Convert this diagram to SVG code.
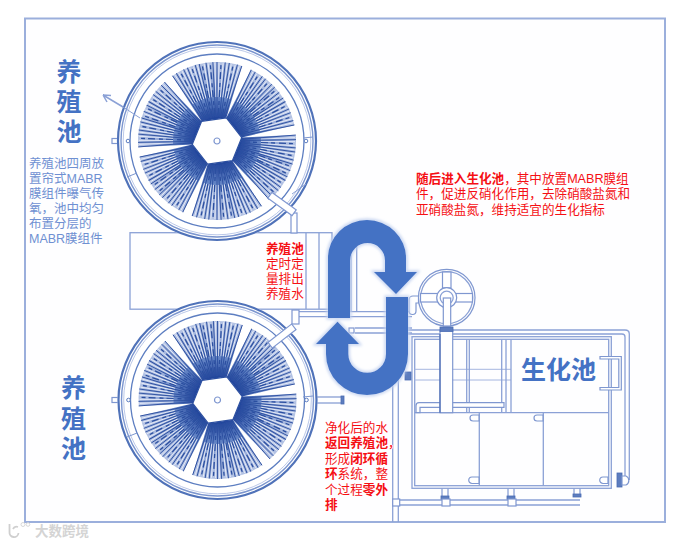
<svg xmlns="http://www.w3.org/2000/svg" width="685" height="545" viewBox="0 0 685 545">
<style>
text{font-family:"Liberation Sans","Noto Sans CJK SC","Noto Sans",sans-serif}
.title{font-size:25px;font-weight:700;fill:#4472c4;text-anchor:middle}
.desc{font-size:12.5px;fill:#6f90d2}
.red{font-size:12.6px;fill:#f50f14;paint-order:stroke;stroke:#fff;stroke-width:1.2px}
.b{font-weight:700}
.wm{font-size:13.5px;font-weight:700;fill:#d4d4d4}
.l{fill:none;stroke:#8ba1d6;stroke-width:1.3}
.t{fill:none;stroke:#a5b6e0;stroke-width:1}
.p{fill:#fff;stroke:#7f97d0;stroke-width:1.2}
.d{fill:#5d7dbf;stroke:#4a6cb3;stroke-width:.8}
.ld{stroke:#2c4fa0;stroke-width:.9}
.lw{stroke:#f0f3fb;stroke-width:.8}
.ls{stroke:#2c4fa0;stroke-width:1.3;stroke-dasharray:7 3 4 4}
.ring{fill:none}
</style>
<defs>
<filter id="soft" x="-5%" y="-5%" width="110%" height="110%"><feGaussianBlur stdDeviation="0.4"/></filter>
<filter id="glow" x="-15%" y="-15%" width="130%" height="130%"><feGaussianBlur stdDeviation="1.6"/></filter>
<radialGradient id="bg" gradientUnits="userSpaceOnUse" cx="0" cy="0" r="79">
<stop offset="0.3" stop-color="#24479d"/><stop offset="0.5" stop-color="#5a7cc0"/><stop offset="0.75" stop-color="#96abd9"/><stop offset="1" stop-color="#b4c3e4"/>
</radialGradient>
<line id="ld" class="ld" x1="0" y1="-24" x2="0" y2="-79"/>
<line id="lw" class="lw" x1="0" y1="-44" x2="0" y2="-78"/>
<line id="ls" class="ls" x1="0" y1="-26" x2="0" y2="-79"/>
<g id="blade">
<path d="M-12.5-21.65L-35.2-70.7A79 79 0 0 1 35.2-70.7L12.5-21.65Z" fill="url(#bg)"/>
<use href="#ld" transform="rotate(-26.3)"/><use href="#lw" transform="rotate(-24.5)"/><use href="#ld" transform="rotate(-23)"/><use href="#lw" transform="rotate(-21.5)"/>
<use href="#ls" transform="rotate(-20)"/><use href="#lw" transform="rotate(-18.5)"/><use href="#ld" transform="rotate(-17)"/><use href="#lw" transform="rotate(-15.5)"/>
<use href="#ld" transform="rotate(-14)"/><use href="#lw" transform="rotate(-12.5)"/><use href="#ls" transform="rotate(-11)"/><use href="#lw" transform="rotate(-9.5)"/>
<use href="#ld" transform="rotate(-8)"/><use href="#lw" transform="rotate(-6.5)"/><use href="#ld" transform="rotate(-5)"/><use href="#ls" transform="rotate(-3)"/>
<use href="#lw" transform="rotate(-1.5)"/><use href="#ld" transform="rotate(0)"/><use href="#lw" transform="rotate(1.5)"/><use href="#ls" transform="rotate(3)"/>
<use href="#ld" transform="rotate(5)"/><use href="#lw" transform="rotate(6.5)"/><use href="#ld" transform="rotate(8)"/><use href="#lw" transform="rotate(9.5)"/>
<use href="#ls" transform="rotate(11)"/><use href="#lw" transform="rotate(12.5)"/><use href="#ld" transform="rotate(14)"/><use href="#lw" transform="rotate(15.5)"/>
<use href="#ld" transform="rotate(17)"/><use href="#lw" transform="rotate(18.5)"/><use href="#ls" transform="rotate(20)"/><use href="#lw" transform="rotate(21.5)"/>
<use href="#ld" transform="rotate(23)"/><use href="#lw" transform="rotate(24.5)"/><use href="#ld" transform="rotate(26.3)"/>
</g>
<g id="fan">
<circle r="100" fill="#fff"/>
<circle class="ring" r="99" stroke="#5072b9" stroke-width="2.2"/>
<circle class="ring" r="96" stroke="#7c96cf" stroke-width="1.4"/>
<circle class="ring" r="93.8" stroke="#a9bae2" stroke-width=".8"/>
<circle class="ring" r="87" stroke="#5d7ec1" stroke-width="1.3"/>
<g transform="rotate(-8)">
<use href="#blade"/><use href="#blade" transform="rotate(60)"/><use href="#blade" transform="rotate(120)"/><use href="#blade" transform="rotate(180)"/><use href="#blade" transform="rotate(240)"/><use href="#blade" transform="rotate(300)"/>
<polygon points="12.5,-21.65 25,0 12.5,21.65 -12.5,21.65 -25,0 -12.5,-21.65" fill="#fff" stroke="#2c4fa0" stroke-width="1.2"/>
</g>
<circle r="3" fill="#fff" stroke="#7f97d0" stroke-width="1.2"/>
<circle cx="-89" cy="0" r="1.8" fill="#fff" stroke="#5d7ec1"/>
<circle cx="89" cy="0" r="1.8" fill="#fff" stroke="#5d7ec1"/>
</g>
</defs>
<rect width="685" height="545" fill="#fff"/>
<rect id="frame" x="25" y="18.5" width="640" height="503.5" fill="#fefeff" stroke="#9bafdc" stroke-width="2"/>

<g id="connectors" filter="url(#soft)">
<rect class="l" x="130" y="232.7" width="202" height="76.5"/>
<path class="l" d="M306 232.7V309M319 232.7V309"/>
<path class="l" d="M351 240V312M356.7 240V312"/>
<path class="l" d="M299 311.7H412M299 316.7H412M355 328H412M355 333H412"/>
<rect class="p" x="349" y="328" width="5" height="5"/>
<path class="l" d="M392.7 333V522M398.3 333V522"/>
<rect class="p" x="291" y="213" width="6" height="20"/>
<rect class="p" x="292" y="310" width="7" height="14"/>
<path d="M128 110L103 95M103 95L111 95.500M103 95L107 102" fill="none" stroke="#8ba1d6" stroke-width="1.5"/>
<rect class="p" x="112" y="138.500" width="9" height="5"/>
<rect class="p" x="112" y="397.500" width="9" height="5"/>
<rect class="p" x="316" y="397" width="26" height="6"/>
<rect class="d" x="341" y="396" width="3" height="8"/>
<path class="l" d="M397 500H580M397 505H580"/>
<rect class="p" x="392.700" y="499" width="7" height="7"/>
<path class="l" d="M442 488V500M448 488V500M508 488V500M514 488V500M574 488V497M580 488V497"/>
<rect class="d" x="441" y="496" width="8" height="3"/><rect class="p" x="442" y="499" width="8" height="7"/>
<rect class="d" x="507" y="496" width="8" height="3"/><rect class="p" x="508" y="499" width="8" height="7"/>
<rect class="d" x="573" y="494" width="8" height="3"/>
<path class="l" d="M408 330H625Q629.300 330 629.300 334V480M408 334H622Q625 334 625 337V476"/>
<rect class="d" x="617" y="473" width="5" height="14"/>
<path class="p" d="M622 476H626A5 5 0 0 1 626 485H622Z"/>
</g>

<g id="fan-top" filter="url(#soft)">
<use href="#fan" x="217" y="141"/>
<path d="M120 105L140 118M292 194L306 184" fill="none" stroke="#8ba1d6" stroke-width="1"/>
<path d="M127 177L137 173M303 138L313 137" fill="none" stroke="#7c96cf" stroke-width="1"/>
<rect class="p" x="267" y="200.500" width="30" height="7" transform="rotate(36 282 204)"/>
</g>
<g id="fan-bottom" filter="url(#soft)">
<use href="#fan" x="217.500" y="400"/>
<path d="M127 437L137 433M303 397L313 396" fill="none" stroke="#7c96cf" stroke-width="1"/>
<rect class="p" x="267" y="332.500" width="30" height="7" transform="rotate(-38 282 336)"/>
</g>

<g id="tank" filter="url(#soft)">
<rect class="l" x="412" y="336.700" width="199.300" height="151.600"/>
<rect class="l" x="414.700" y="339.300" width="194" height="146.400"/>
<path class="t" d="M414.700 369.300H511M414.700 380H511"/>
<path class="l" d="M414.700 412.700H608.700M479.300 412.700V485.700M543.300 412.700V485.700M511 339.300V412.700M506 339.300V412.700M501.700 339.300V412.700M466.700 339.300V412.700M469.300 339.300V412.700"/>
<path class="p" d="M504 402.700H419A3 3 0 0 0 416 405.700V412.700H420V407.300H504Z"/>
<rect class="p" x="440" y="330" width="12.700" height="82.700"/>
<path d="M440 334V412.700" fill="none" stroke="#4a6cb3" stroke-width="1.2"/>
<path class="p" d="M479 415H473A3 3 0 0 0 473 421H479ZM479 477H472A3.200 3.200 0 0 0 472 483.500H479ZM608 477H603A3.200 3.200 0 0 0 603 483.500H608ZM543 415H537A3 3 0 0 0 537 421H543Z"/>
<path class="p" d="M600 356.500H621.300V390H600V387.500H618.800V359H600Z"/>
<rect class="d" x="405" y="372" width="6" height="8"/>
</g>

<g id="wheel" filter="url(#soft)">
<circle class="p" cx="446.700" cy="297.700" r="28.300" stroke-width="1.500"/>
<circle class="l" cx="446.700" cy="297.700" r="26"/>
<rect class="p" x="442.500" y="272" width="8.500" height="16"/>
<rect class="p" x="420.500" y="293.500" width="52" height="8.500"/>
<circle class="p" cx="446.700" cy="297.700" r="10"/>
<circle class="l" cx="446.700" cy="297.700" r="6.500"/>
<rect class="p" x="443.300" y="298" width="7.400" height="28"/>
<rect class="d" x="440" y="327" width="13" height="4.500"/>
<path class="p" d="M418.500 296H413A4 4 0 0 0 409 300V311A3.500 3.500 0 0 0 416 311V303H418.500Z"/>
</g>

<g id="flow-arrows">
<path d="M328 318V258A39 38 0 0 1 406 258V272H417L396 294L374 272H385V260.500A17.500 17.500 0 0 0 350 260.500V318Z" fill="none" stroke="#c3d1ef" stroke-width="3" filter="url(#glow)"/>
<path d="M386 297H408V354A41 41 0 0 1 326 354V344H316L337.500 321.700L359 344H348.300V354A18.700 18.700 0 0 0 386 354Z" fill="none" stroke="#c3d1ef" stroke-width="3" filter="url(#glow)"/>
<path id="arrow-down" d="M328 318V258A39 38 0 0 1 406 258V272H417L396 294L374 272H385V260.500A17.500 17.500 0 0 0 350 260.500V318Z" fill="#4472c4"/>
<path id="arrow-up" d="M386 297H408V354A41 41 0 0 1 326 354V344H316L337.500 321.700L359 344H348.300V354A18.700 18.700 0 0 0 386 354Z" fill="#4472c4"/>
</g>

<g id="label-pond-top">
<text class="title" x="69" y="80.500">养</text>
<text class="title" x="69" y="110.500">殖</text>
<text class="title" x="69" y="140.500">池</text>
<text class="desc" x="29" y="167.500">养殖池四周放</text>
<text class="desc" x="29" y="182.500">置帘式MABR</text>
<text class="desc" x="29" y="197.500">膜组件曝气传</text>
<text class="desc" x="29" y="212.500">氧&#65292;池中均匀</text>
<text class="desc" x="29" y="228">布置分层的</text>
<text class="desc" x="29" y="243">MABR膜组件</text>
</g>
<g id="label-pond-bottom">
<text class="title" x="73.500" y="396.500">养</text>
<text class="title" x="73.500" y="427.500">殖</text>
<text class="title" x="73.500" y="458">池</text>
</g>
<g id="label-tank"><text class="title" x="558.500" y="379">生化池</text></g>
<g id="note-discharge">
<text class="red b" x="266" y="253">养殖池</text>
<text class="red" x="266" y="268">定时定</text>
<text class="red" x="266" y="283">量排出</text>
<text class="red" x="266" y="298">养殖水</text>
</g>
<g id="note-bio">
<text class="red" x="416" y="182.500"><tspan class="b">随后进入生化池</tspan>&#65292;其中放置MABR膜组</text>
<text class="red" x="416" y="198">件&#65292;促进反硝化作用&#65292;去除硝酸盐氮和</text>
<text class="red" x="416" y="213.500">亚硝酸盐氮&#65292;维持适宜的生化指标</text>
</g>
<g id="note-return">
<text class="red" x="325" y="432">净化后的水</text>
<text class="red" x="325" y="447"><tspan class="b">返回养殖池</tspan>&#65292;</text>
<text class="red" x="325" y="462.500">形成<tspan class="b">闭环循</tspan></text>
<text class="red" x="325" y="478"><tspan class="b">环</tspan>系统&#65292;整</text>
<text class="red" x="325" y="493.500">个过程<tspan class="b">零外</tspan></text>
<text class="red" x="325" y="509"><tspan class="b">排</tspan></text>
</g>
<g id="watermark">
<path d="M9.500 524V532A4.500 4.500 0 0 0 18.500 533M13 529A4 4 0 0 1 18 527" fill="none" stroke="#cfcfcf" stroke-width="1.800"/>
<circle cx="23" cy="524.500" r="2" fill="none" stroke="#d8d8d8"/><circle cx="28" cy="524.500" r="1.800" fill="none" stroke="#d8d8d8"/>
<text class="wm" x="35" y="536">大数跨境</text>
</g>
</svg>
